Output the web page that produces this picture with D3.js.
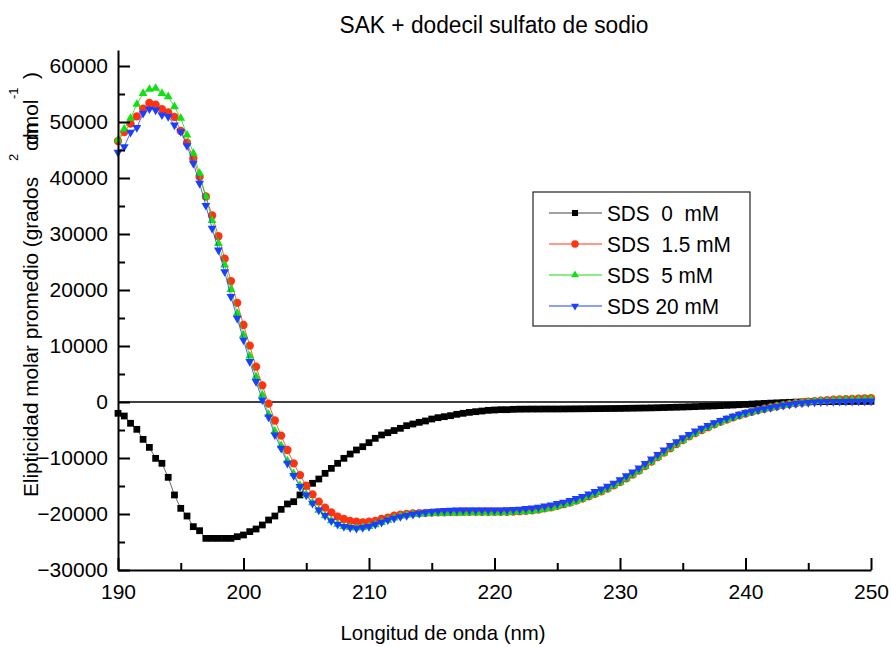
<!DOCTYPE html>
<html>
<head>
<meta charset="utf-8">
<script src="https://cdn.jsdelivr.net/npm/d3@7"></script>
<style>
  body { margin: 0; background: #fff; }
  svg { display: block; font-family: "Liberation Sans", Arial, sans-serif; }
</style>
</head>
<body>
<div id="chart"></div>
<script>
// wavelength grid (nm), one reading every 0.5 nm
const wavelengths = d3.range(190, 250.001, 0.5);

// SDS 0 mM
const sds0 = [
  -2020, -2500, -3800, -4880, -6670, -8100, -10060, -10950, -13450, -16600,
  -18990, -20360, -22260, -22980, -24350, -24350, -24350, -24350, -24350, -24050,
  -23750, -23150, -22680, -21960, -21070, -20360, -19170, -18210, -17800, -16600,
  -15000, -14520, -13750, -12740, -11850, -10950, -10060, -9290, -8570, -7980,
  -7260, -6490, -5890, -5480, -5100, -4700, -4230, -3930, -3630, -3390,
  -3040, -2800, -2620, -2440, -2200, -2020, -1850, -1730, -1610, -1490,
  -1430, -1370, -1370, -1310, -1280, -1270, -1260, -1260, -1250, -1250,
  -1250, -1240, -1230, -1220, -1210, -1200, -1190, -1180, -1170, -1160,
  -1150, -1130, -1110, -1090, -1070, -1050, -1020, -990, -960, -930,
  -900, -860, -820, -780, -740, -700, -650, -600, -550, -490,
  -430, -370, -310, -250, -200, -150, -100, -60, -20, 10,
  30, 50, 60, 70, 80, 90, 100, 100, 110, 110,
  120
];

// SDS 1.5 mM
const sds15 = [
  46600, 48200, 49700, 51000, 52400, 53400, 53100, 52300, 51700, 50900,
  48400, 46300, 43500, 40200, 36700, 33300, 29600, 25600, 21600, 17700,
  13750, 10060, 6300, 2980, -300, -3300, -6000, -8570, -10950, -13040,
  -14940, -16490, -17800, -18870, -19700, -20480, -20890, -21250, -21370, -21490,
  -21370, -21250, -20890, -20660, -20300, -20100, -20000, -19900, -19850, -19800,
  -19750, -19700, -19700, -19650, -19650, -19600, -19600, -19600, -19600, -19600,
  -19600, -19600, -19600, -19550, -19500, -19450, -19350, -19200, -19000, -18800,
  -18550, -18250, -17950, -17600, -17250, -16850, -16400, -15950, -15450, -14900,
  -14300, -13650, -12950, -12250, -11450, -10650, -9850, -9050, -8250, -7500,
  -6800, -6150, -5550, -5000, -4500, -4000, -3550, -3150, -2750, -2400,
  -2050, -1750, -1450, -1200, -950, -750, -550, -380, -220, -80,
  50, 150, 250, 320, 400, 460, 520, 570, 620, 660,
  700
];

// SDS 5 mM
const sds5 = [
  46800, 48750, 50660, 53160, 55120, 55840, 56020, 55120, 54520, 52730,
  50660, 47680, 44410, 40840, 36660, 32400, 28330, 24460, 20120, 15830,
  11960, 8210, 4520, 1250, -2200, -5200, -7800, -10500, -12800, -14900,
  -16500, -18000, -19300, -20300, -21200, -21800, -22200, -22400, -22500, -22400,
  -22200, -21900, -21500, -21100, -20700, -20400, -20200, -20100, -20000, -19950,
  -19900, -19850, -19850, -19800, -19800, -19800, -19750, -19750, -19750, -19750,
  -19750, -19750, -19700, -19650, -19600, -19550, -19450, -19300, -19100, -18900,
  -18650, -18350, -18050, -17700, -17300, -16900, -16450, -16000, -15500, -14950,
  -14350, -13700, -13000, -12300, -11500, -10700, -9900, -9100, -8300, -7550,
  -6850, -6200, -5600, -5050, -4550, -4050, -3600, -3200, -2800, -2450,
  -2100, -1800, -1500, -1250, -1000, -800, -600, -420, -260, -120,
  0, 100, 180, 250, 310, 360, 400, 430, 460, 480,
  500
];

// SDS 20 mM
const sds20 = [
  44590, 45590, 48160, 48990, 51550, 52320, 52140, 51250, 50950, 49460,
  48270, 45770, 42620, 39050, 35100, 31010, 27140, 23270, 18810, 14950,
  11070, 7200, 3630, 360, -2700, -5890, -8270, -10950, -13150, -15120,
  -16610, -18090, -19290, -20300, -21250, -21850, -22260, -22440, -22560, -22440,
  -22260, -21850, -21490, -21070, -20770, -20480, -20300, -20060, -19880, -19700,
  -19580, -19460, -19400, -19350, -19300, -19290, -19290, -19290, -19290, -19290,
  -19290, -19290, -19250, -19200, -19150, -19050, -18950, -18800, -18600, -18400,
  -18150, -17900, -17600, -17250, -16900, -16450, -16000, -15550, -15050, -14500,
  -13900, -13200, -12500, -11800, -11000, -10200, -9400, -8600, -7800, -7100,
  -6400, -5800, -5200, -4700, -4200, -3700, -3300, -2900, -2550, -2200,
  -1900, -1650, -1400, -1200, -1000, -800, -600, -450, -300, -200,
  -100, -30, 20, 60, 80, 100, 120, 130, 140, 150,
  160
];

const seriesNames = ["SDS  0  mM", "SDS  1.5 mM", "SDS  5 mM", "SDS 20 mM"];
const xTicks = [190, 200, 210, 220, 230, 240, 250];
const yTicks = [-30000, -20000, -10000, 0, 10000, 20000, 30000, 40000, 50000, 60000];

const width = 891, height = 647;
const margin = { top: 50, right: 20, bottom: 77, left: 118 };

const svg = d3.select("#chart")
  .append("svg")
  .attr("width", width)
  .attr("height", height)
  .attr("viewBox", [0, 0, width, height]);

let x = d3.scaleLinear()
  .domain([190, 250])
  .range([margin.left, 871]);

let y = d3.scaleLinear()
  .domain([-30000, 62857])
  .range([height - margin.bottom, margin.top]);

// series styles
const series = [
  { name: seriesNames[0], values: sds0, color: "#000000", line: "#444", sym: d3.symbolSquare, size: 46, rot: 0 },
  { name: seriesNames[1], values: sds15, color: "#ff3311", line: "#ff3311", sym: d3.symbolCircle, size: 54, rot: 0 },
  { name: seriesNames[2], values: sds5, color: "#11e011", line: "#11e011", sym: d3.symbolTriangle, size: 34, rot: 0 },
  { name: seriesNames[3], values: sds20, color: "#1a40ff", line: "#1a40ff", sym: d3.symbolTriangle, size: 34, rot: 180 }
];

// zero line
svg.append("line")
  .attr("x1", x(190)).attr("x2", x(250))
  .attr("y1", y(0)).attr("y2", y(0))
  .attr("stroke", "#000").attr("stroke-width", 1.6);

const line = d3.line()
  .x((d, i) => x(wavelengths[i]))
  .y(d => y(d));

series.forEach(s => {
  svg.append("path")
    .datum(s.values)
    .attr("fill", "none")
    .attr("stroke", s.line)
    .attr("stroke-width", 0.8)
    .attr("d", line);

  svg.append("g")
    .selectAll("path")
    .data(s.values)
    .join("path")
    .attr("d", d3.symbol(s.sym, s.size))
    .attr("transform", (d, i) => `translate(${x(wavelengths[i])},${y(d)}) rotate(${s.rot})`)
    .attr("fill", s.color);
});

// axes (ticks point inward)
svg.append("g")
  .attr("transform", `translate(0,${height - margin.bottom})`)
  .call(d3.axisBottom(x).tickValues(xTicks).tickSizeInner(-12).tickSizeOuter(0).tickPadding(14));

svg.append("g")
  .attr("transform", `translate(0,${height - margin.bottom})`)
  .call(d3.axisBottom(x).tickValues([195, 205, 215, 225, 235, 245]).tickSizeInner(-7).tickSizeOuter(0).tickFormat(""))
  .call(g => g.select(".domain").remove());

svg.append("g")
  .attr("transform", `translate(${margin.left},0)`)
  .call(d3.axisLeft(y).tickValues(yTicks).tickSizeInner(-12).tickSizeOuter(0).tickPadding(10).tickFormat(d3.format("d")));

svg.append("g")
  .attr("transform", `translate(${margin.left},0)`)
  .call(d3.axisLeft(y).tickValues([-25000, -15000, -5000, 5000, 15000, 25000, 35000, 45000, 55000]).tickSizeInner(-7).tickSizeOuter(0).tickFormat(""))
  .call(g => g.select(".domain").remove());

svg.selectAll(".domain").attr("stroke-width", 2);
svg.selectAll(".tick line").attr("stroke-width", 2);
svg.selectAll(".tick text")
  .attr("font-size", 21)
  .attr("font-family", "Liberation Sans, Arial, sans-serif")
  .attr("fill", "#000");

// title
svg.append("text")
  .attr("x", 494).attr("y", 33)
  .attr("text-anchor", "middle")
  .attr("font-size", 23)
  .attr("textLength", 309)
  .attr("lengthAdjust", "spacingAndGlyphs")
  .text("SAK + dodecil sulfato de sodio");

// x label
svg.append("text")
  .attr("x", 443).attr("y", 640)
  .attr("text-anchor", "middle")
  .attr("font-size", 21)
  .attr("textLength", 205)
  .attr("lengthAdjust", "spacingAndGlyphs")
  .text("Longitud de onda (nm)");

// y label, pieces overlap like in the original
const yl = svg.append("g").attr("transform", "translate(38,497) rotate(-90)");
yl.append("text").attr("x", 0).attr("font-size", 21)
  .attr("textLength", 320).attr("lengthAdjust", "spacingAndGlyphs")
  .text("Elipticidad molar promedio (grados");
yl.append("text").attr("x", 336).attr("y", -20).attr("font-size", 13).text("2");
yl.append("text").attr("x", 346).attr("font-size", 21).text("cm");
yl.append("text").attr("x", 352).attr("font-size", 21).text("dmol");
yl.append("text").attr("x", 398).attr("y", -20).attr("font-size", 13).text("-1");
yl.append("text").attr("x", 418).attr("font-size", 21).text(")");

// legend
const legend = svg.append("g");
legend.append("rect")
  .attr("x", 533).attr("y", 192)
  .attr("width", 217).attr("height", 134)
  .attr("fill", "#fff")
  .attr("stroke", "#222")
  .attr("stroke-width", 1.2);

const legendY = [213, 244, 275, 306];
const legendW = [112, 124, 106, 112];

series.forEach((s, i) => {
  const row = legend.append("g").attr("transform", `translate(0,${legendY[i]})`);
  row.append("line")
    .attr("x1", 549).attr("x2", 602)
    .attr("stroke", s.line).attr("stroke-width", 1);
  row.append("path")
    .attr("d", d3.symbol(s.sym, s.size * 0.8))
    .attr("transform", `translate(575,0) rotate(${s.rot})`)
    .attr("fill", s.color);
  row.append("text")
    .attr("x", 607).attr("y", 8)
    .attr("font-size", 22)
    .attr("xml:space", "preserve")
    .style("white-space", "pre")
    .attr("textLength", legendW[i])
    .attr("lengthAdjust", "spacingAndGlyphs")
    .text(s.name);
});
</script>
</body>
</html>
